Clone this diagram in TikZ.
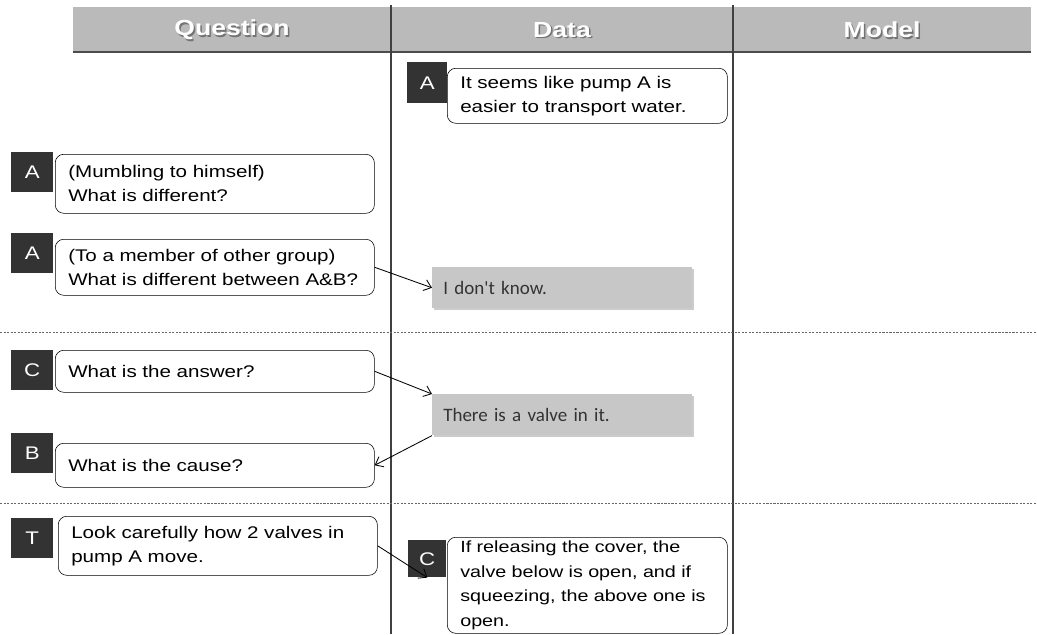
\documentclass[tikz,border=0pt]{standalone}
\usepackage{fontspec}
\setmainfont{Liberation Sans}[FakeStretch=1.22]
\newfontfamily\replyfont{Carlito}
\usetikzlibrary{shadows,arrows.meta}

\tikzset{
  head/.style={font=\bfseries\fontsize{15.5}{18}\selectfont, text=white},
  headshadow/.style={font=\bfseries\fontsize{15.5}{18}\selectfont, text=black!55},
  tag/.style={fill=black!80, text=white, anchor=north west, inner sep=0pt,
    minimum width=1.05cm, minimum height=1cm, font=\fontsize{13}{16}\selectfont},
  bubble/.style={draw, fill=white, rounded corners=6pt, anchor=north west,
    align=left, inner xsep=0.325cm, inner ysep=0pt, text width=#1,
    font=\fontsize{12}{17}\selectfont},
  reply/.style={fill=black!22, anchor=north west, align=left, inner xsep=0.275cm,
    inner ysep=0pt, text width=5.95cm, minimum height=1.025cm, text=black!80,
    font=\replyfont\fontsize{13.5}{16}\selectfont,
    drop shadow={shadow xshift=1.5pt, shadow yshift=-1.5pt, fill=black!40}},
  link/.style={-{Straight Barb[length=5pt, width=8pt]}, semithick},
  rowsep/.style={black!60, dash pattern=on 1.5pt off 1pt},
}

\begin{document}
\begin{tikzpicture}[x=0.025cm, y=-0.025cm]
  \useasboundingbox (0,0) rectangle (1037,634);

  % header band
  \fill[black!27] (73,7) rectangle (1031,52);
  \draw[black!70, line width=1.5pt] (73,52) -- (1031,52);
  \node[headshadow] at (233.5,31.5) {Question};
  \node[head] (hQ) at (232,30) {Question};
  \node[headshadow] at (563.5,31.5) {Data};
  \node[head] (hD) at (562,30) {Data};
  \node[headshadow] at (883.5,31.5) {Model};
  \node[head] (hM) at (882,30) {Model};

  % column and row rules
  \draw[black!75, thick] (391,5) -- (391,634);
  \draw[black!75, thick] (733,5) -- (733,634);
  \draw[rowsep] (0,332) -- (1037,332);
  \draw[rowsep] (0,503) -- (1037,503);

  % question column
  \node[bubble=7.325cm, minimum height=1.475cm] (qA1) at (55,154)
    {(Mumbling to himself)\\What is different?};
  \node[tag] (tA1) at (11,152) {A};
  \node[bubble=7.325cm, minimum height=1.4cm] (qA2) at (55,239)
    {(To a member of other group)\\What is different between A\&B?};
  \node[tag] (tA2) at (11,233) {A};
  \node[bubble=7.325cm, minimum height=1.05cm] (qC) at (55,350)
    {What is the answer?};
  \node[tag] (tC) at (11,350) {C};
  \node[bubble=7.325cm, minimum height=1.1cm] (qB) at (55,443)
    {What is the cause?};
  \node[tag] (tB) at (11,433) {B};
  \node[bubble=7.325cm, minimum height=1.475cm] (qT) at (58,516)
    {Look carefully how 2 valves in\\pump A move.};
  \node[tag] (tT) at (11,518) {T};

  % data column
  \node[bubble=6.35cm, minimum height=1.375cm] (dA) at (447,68)
    {It seems like pump A is\\easier to transport water.};
  \node[tag, minimum width=1cm, minimum height=1.025cm] (tdA) at (407,62) {A};
  \node[reply] (dK) at (432,267) {I don't know.};
  \node[reply] (dV) at (432,394) {There is a valve in it.};
  \node[bubble=6.35cm, minimum height=2.4cm, font=\fontsize{11.5}{17.5}\selectfont] (dC) at (447,537)
    {If releasing the cover, the\\valve below is open, and if\\squeezing, the above one is\\open.};
  \node[tag, minimum width=0.95cm, minimum height=0.925cm] (tdC) at (408,540) {C};

  % links
  \draw[link] (qA2.east) -- (dK.west);
  \draw[link] (qC.east) -- (dV.north west);
  \draw[link] (dV.south west) -- (qB.east);
  \draw[link] (qT.east) -- (tdC.south);
\end{tikzpicture}
\end{document}
